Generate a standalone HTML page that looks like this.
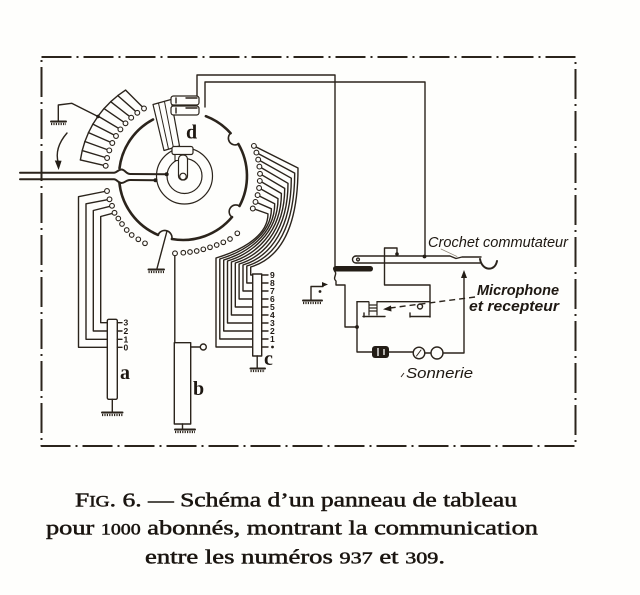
<!DOCTYPE html>
<html><head><meta charset="utf-8"><style>
html,body{margin:0;padding:0;background:#fefefc;}
svg{display:block;}
</style></head><body>
<svg width="640" height="595" viewBox="0 0 640 595" xmlns="http://www.w3.org/2000/svg">
<rect width="640" height="595" fill="#fefefc"/>
<g fill="none" stroke="#2b241c" stroke-linecap="round" stroke-linejoin="round" stroke-width="1.4">
<!-- frame -->
<rect x="41.5" y="57" width="534" height="389" stroke-width="2" stroke-dasharray="30 5 2 5" stroke-linecap="butt"/>

<!-- main circle arcs -->
<g stroke-width="2.6">
<path d="M119.5,168.2 A64,64 0 0 1 153,119.5"/>
<path d="M205.9,116.2 A64,64 0 0 1 230.6,133.2"/>
<path d="M238.4,144 A64,64 0 0 1 239.5,206"/>
<path d="M232,217.1 A64,64 0 0 1 171.9,239"/>
<path d="M158,234.9 A64,64 0 0 1 119.4,182.7"/>
</g>
<g stroke-width="1.6">
<path d="M230.6,133.2 A6.7,6.7 0 0 0 238.4,144"/>
<path d="M239.5,206 A6.7,6.7 0 0 0 232,217.1"/>
<path d="M171.9,239 A7.3,7.3 0 0 0 158,234.9"/>
</g>
<!-- ground wire from bottom notch -->
<path d="M167,231 L157,268.5"/>
<path d="M148.5,269.5 H164" stroke-width="2"/>
<path d="M148.5,272 H164" stroke-width="2.2" stroke-dasharray="1.2 1.2" stroke-linecap="butt"/>

<!-- inner circles -->
<circle cx="184.5" cy="176" r="28" stroke-width="1.2"/>
<circle cx="184.5" cy="176" r="17.5" stroke-width="1.2"/>

<!-- arm d -->
<polygon points="153,104.5 171,99.5 179.5,146 164,150.5" fill="#fefefc" stroke-width="1.2"/>
<path d="M158.5,103.2 L168.5,149 M164.5,101.7 L173.5,148" stroke-width="1"/>
<rect x="171" y="96" width="28" height="9" rx="2.5" fill="#fefefc" stroke-width="1.2"/>
<rect x="171" y="106" width="28" height="9" rx="2.5" fill="#fefefc" stroke-width="1.2"/>
<path d="M176,98 V103 M176,108 V113 M186,98 H197 M186,108 H197" stroke-width="1.4"/>
<rect x="172" y="146.5" width="21" height="8" rx="2" fill="#fefefc" stroke-width="1.2"/>
<rect x="175" y="154.5" width="9" height="6" fill="#fefefc" stroke-width="1.1"/>
<rect x="178.5" y="155" width="9" height="25" rx="4" fill="#fefefc" stroke-width="1.2"/>
<circle cx="183" cy="176.5" r="3.3" fill="#fefefc" stroke-width="1.2"/>

<!-- top wires -->
<path d="M197,96 V75 H335 V266"/>
<path d="M205,107 V82 H425 V256"/>

<!-- double wire from left -->
<path d="M20,172.7 H114 C117,172.7 118,169.5 121.5,169.5 C125,169.5 126,174 130,174 L166.7,174.3" stroke-width="2"/>
<path d="M20,179.3 H114 C117,179.3 118,183 121.5,183 C125,183 126,180 130,180 L155.5,180.3" stroke-width="2"/>

<!-- upper-left fan -->
<path d="M144,108.5 L125.6,90.1 M137.3,112.8 L117.8,95.6 M131.2,117.7 L110.7,101.7 M125.5,123.3 L104,108.6 M120.4,129.4 L98.1,116.1 M116,136 L92.9,124.1 M112.3,143 L88.5,132.6 M109.3,150.4 L84.9,141.5 M107.1,158 L82.2,150.6 M105.7,165.8 L80.4,159.9"/>
<polyline points="125.6,90.1 117.8,95.6 110.7,101.7 104,108.6 98.1,116.1 92.9,124.1 88.5,132.6 84.9,141.5 82.2,150.6 80.4,159.9"/>
<!-- ground top-left -->
<path d="M58.3,121 V105 L71.7,103.3 L98,116.5"/>
<path d="M51,121.5 H66" stroke-width="2"/>
<path d="M51,124 H66" stroke-width="2.2" stroke-dasharray="1.2 1.2" stroke-linecap="butt"/>
<!-- 7 arrow -->
<path d="M67,133 Q54,148 58.3,163"/>

<!-- lower-left wires to bar a -->
<path d="M107,191 L78.5,196.7 V347.3 H107.3"/>
<path d="M109.5,199.3 L86,203.8 V339.3 H107.3"/>
<path d="M112,205.8 L93.3,210.5 V331 H107.3"/>
<path d="M114.5,212.8 L100.7,216.5 V322.7 H107.3"/>
<rect x="107.3" y="319.3" width="10" height="80" rx="1.5" fill="#fefefc"/>
<path d="M117.3,322.7 H122 M117.3,331 H122 M117.3,339.3 H122 M117.3,347.3 H122"/>
<path d="M112.3,399.3 V412"/>
<path d="M102,412.5 H122.5" stroke-width="2"/>
<path d="M102,415 H122.5" stroke-width="2.2" stroke-dasharray="1.2 1.2" stroke-linecap="butt"/>

<!-- bar b -->
<path d="M174.8,255.8 V343"/>
<rect x="174.3" y="342.7" width="16.4" height="81.3" fill="#fefefc"/>
<path d="M190.7,347 H200"/>
<circle cx="203.3" cy="347" r="3"/>
<path d="M182.5,424 V429.5"/>
<path d="M175,429.5 H195" stroke-width="2"/>
<path d="M175,432 H195" stroke-width="2.2" stroke-dasharray="1.2 1.2" stroke-linecap="butt"/>

<!-- bundle to bar c -->
<path d="M253.9,145.9 L298,168 C298,223 282.7,257.4 250.7,267 L250.7,275 L253,275"/>
<path d="M256.4,152.6 L294.7,173.1 C294.7,224.8 277.2,256.9 246.8,266 L246.8,283 L253,283"/>
<path d="M258.2,159.6 L291.3,178.2 C291.3,226.5 271.9,256.3 243,265 L243,291 L253,291"/>
<path d="M259.4,166.6 L288,183.3 C288,228.3 266.4,255.8 239.1,264 L239.1,299 L253,299"/>
<path d="M260,173.8 L284.7,188.4 C284.7,230.1 261.1,255.3 235.3,263 L235.3,307 L253,307"/>
<path d="M259.8,180.9 L281.4,193.5 C281.4,231.9 255.6,254.7 231.4,262 L231.4,315 L253,315"/>
<path d="M259.1,188 L278,198.6 C278,233.6 250.1,254.2 227.5,261 L227.5,323 L253,323"/>
<path d="M257.6,195.1 L274.7,203.7 C274.7,235.4 244.8,253.7 223.7,260 L223.7,331 L253,331"/>
<path d="M255.5,201.9 L271.4,208.8 C271.4,237.2 239.3,253.2 219.8,259 L219.8,339 L253,339"/>
<path d="M252.8,208.5 L268,213.9 C268,238.9 234,252.6 216,258 L216,347 L253,347"/>
<rect x="252.7" y="274" width="9" height="82" fill="#fefefc"/>
<path d="M261.7,275 H268 M261.7,283 H268 M261.7,291 H268 M261.7,299 H268 M261.7,307 H268 M261.7,315 H268 M261.7,323 H268 M261.7,331 H268 M261.7,339 H268 M261.7,347 H268"/>
<path d="M257.2,356 V368"/>
<path d="M250.5,368.5 H265" stroke-width="2"/>
<path d="M250.5,371 H265" stroke-width="2.2" stroke-dasharray="1.2 1.2" stroke-linecap="butt"/>

<!-- crochet circuit -->
<path d="M356,256 H450 L456,258.5 L462,257 H481"/>
<path d="M356,263 H480"/>
<path d="M356,256 A3.5,3.5 0 0 0 356,263"/>
<circle cx="358" cy="259.5" r="1.4"/>
<path d="M480,259 C482,271 495,272 497,261" stroke-width="2"/>
<path d="M397,254 V248 H384.5 V285 H430 V317"/>
<path d="M334.5,271 C338,274 332,278 336,281 L336,285 H345 V327 H357"/>
<path d="M357,301.7 V352 H372"/>
<path d="M357,301.7 H368.5"/>
<path d="M369,302 V315 M377,302 V315 M369,305 H377 M369,308 H377 M369,311 H377" stroke-width="1.2"/>
<path d="M377,301.7 H430"/>
<circle cx="420" cy="306.5" r="2.5"/>
<path d="M363,316.5 H385 M410,316.5 H430 M364,313 V317 M410,313 V317"/>
<path d="M475,297 L390,308" stroke-dasharray="6 4" stroke-linecap="butt"/>
<path d="M389,352 H413"/>
<circle cx="419" cy="353" r="5.8"/>
<path d="M424.8,353 H431"/>
<circle cx="437" cy="353" r="6"/>
<path d="M421,350 L416.5,356" stroke-width="1"/>
<path d="M443,353 H464 V277"/>
<path d="M311,300 V286.5 H323"/>
<path d="M303,300.5 H322" stroke-width="2"/>
<path d="M303,303 H322" stroke-width="2.2" stroke-dasharray="1.2 1.2" stroke-linecap="butt"/>
<path d="M441,249 L457,256.5" stroke-width="0.7" stroke="#8a8070"/>
</g>

<!-- filled elements -->
<g fill="#231d16" stroke="none">
<rect x="333" y="266" width="40" height="5.5" rx="2.7"/>
<rect x="372" y="346" width="17" height="12" rx="3"/>
<polygon points="461,278 467,278 464,270"/>
<polygon points="383,309.3 391,305.5 391.5,311.5"/>
<polygon points="322,282 322,287 328,284.5"/>
<polygon points="54.8,160.5 61.6,160.8 58.6,170"/>
<circle cx="320" cy="291.5" r="1.4"/>
<circle cx="357" cy="327" r="1.9"/>
<circle cx="397" cy="254" r="1.8"/>
<circle cx="424.5" cy="256.5" r="1.9"/>
<circle cx="166.7" cy="174.3" r="2"/>
<circle cx="155.5" cy="180.3" r="2"/>
<circle cx="98" cy="116.5" r="1.8"/>
<circle cx="272.5" cy="347" r="1.4"/>
</g>
<path d="M378,348 V356 M384,349 V355" stroke="#fefefc" stroke-width="1.3"/>

<!-- contact circles -->
<g fill="#fefefc" stroke="#2b241c" stroke-width="1.1">
<circle cx="144" cy="108.5" r="2.4"/><circle cx="137.3" cy="112.8" r="2.4"/><circle cx="131.2" cy="117.7" r="2.4"/><circle cx="125.5" cy="123.3" r="2.4"/><circle cx="120.4" cy="129.4" r="2.4"/><circle cx="116" cy="136" r="2.4"/><circle cx="112.3" cy="143" r="2.4"/><circle cx="109.3" cy="150.4" r="2.4"/><circle cx="107.1" cy="158" r="2.4"/><circle cx="105.7" cy="165.8" r="2.4"/>
<circle cx="253.9" cy="145.9" r="2.4"/><circle cx="256.4" cy="152.6" r="2.4"/><circle cx="258.2" cy="159.6" r="2.4"/><circle cx="259.4" cy="166.6" r="2.4"/><circle cx="260" cy="173.8" r="2.4"/><circle cx="259.8" cy="180.9" r="2.4"/><circle cx="259.1" cy="188" r="2.4"/><circle cx="257.6" cy="195.1" r="2.4"/><circle cx="255.5" cy="201.9" r="2.4"/><circle cx="252.8" cy="208.5" r="2.4"/>
<circle cx="107" cy="191" r="2.4"/><circle cx="109.5" cy="199.3" r="2.4"/><circle cx="112" cy="205.8" r="2.4"/><circle cx="114.5" cy="212.8" r="2.4"/>
<circle cx="118.3" cy="218.5" r="2.3"/><circle cx="122" cy="224" r="2.3"/><circle cx="126.7" cy="230" r="2.3"/><circle cx="131.7" cy="235" r="2.3"/><circle cx="138.3" cy="239.3" r="2.3"/><circle cx="145" cy="243.3" r="2.3"/>
<circle cx="175" cy="253.3" r="2.4"/>
<circle cx="183.3" cy="252.7" r="2.3"/><circle cx="190" cy="252" r="2.3"/><circle cx="196.7" cy="251" r="2.3"/><circle cx="203.3" cy="249.3" r="2.3"/><circle cx="210" cy="247.3" r="2.3"/><circle cx="216.7" cy="245" r="2.3"/><circle cx="223.3" cy="242.3" r="2.3"/><circle cx="230" cy="239" r="2.3"/><circle cx="237.3" cy="233.3" r="2.3"/>
</g>

<!-- diagram labels -->
<g fill="#1e1812" font-family="'Liberation Serif', serif" font-weight="bold" font-size="20">
<text x="186" y="138.5">d</text>
<text x="120" y="379">a</text>
<text x="193" y="395">b</text>
<text x="264" y="365">c</text>
</g>
<g fill="#1e1812" font-family="'Liberation Sans', sans-serif" font-weight="bold" font-size="8.5">
<text x="123.5" y="325.7">3</text>
<text x="123.5" y="334">2</text>
<text x="123.5" y="342.3">1</text>
<text x="123.5" y="350.3">0</text>
<text x="270" y="278">9</text>
<text x="270" y="286">8</text>
<text x="270" y="294">7</text>
<text x="270" y="302">6</text>
<text x="270" y="310">5</text>
<text x="270" y="318">4</text>
<text x="270" y="326">3</text>
<text x="270" y="334">2</text>
<text x="270" y="342">1</text>
</g>
<g fill="#1e1812" font-family="'Liberation Sans', sans-serif" font-style="italic" font-size="15">
<text x="428" y="247" textLength="140" lengthAdjust="spacingAndGlyphs">Crochet commutateur</text>
<text x="477" y="295" textLength="82" lengthAdjust="spacingAndGlyphs" font-weight="bold">Microphone</text>
<text x="469" y="311" textLength="90" lengthAdjust="spacingAndGlyphs" font-weight="bold">et recepteur</text>
<text x="406" y="378" textLength="67" lengthAdjust="spacingAndGlyphs">Sonnerie</text>
</g>
<path d="M401,377 L404,373" stroke="#2b241c" stroke-width="0.9"/>

<!-- caption -->
<g fill="#1a1510" stroke="#1a1510" stroke-width="0.5" font-family="'Liberation Serif', serif" font-size="20.5">
<text x="75" y="506.5" textLength="442" lengthAdjust="spacingAndGlyphs">F<tspan font-size="15.5">IG</tspan>. 6. — Schéma d’un panneau de tableau</text>
<text x="46" y="534.5" textLength="492" lengthAdjust="spacingAndGlyphs">pour <tspan font-size="15.5">1000</tspan> abonnés, montrant la communication</text>
<text x="145" y="563.5" textLength="300" lengthAdjust="spacingAndGlyphs">entre les numéros <tspan font-size="17">937</tspan> et <tspan font-size="17">309</tspan>.</text>
</g>
</svg>
</body></html>
